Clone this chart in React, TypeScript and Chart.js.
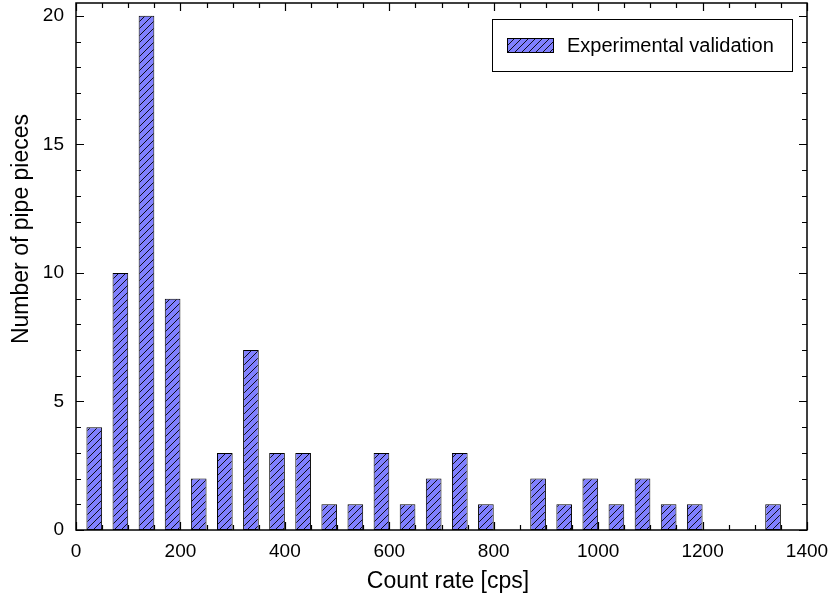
import React, { useEffect, useRef } from "react";
import { Chart, registerables } from "chart.js";

Chart.register(...registerables);

// Bin centres (cps) and counts
const binCenters = [35, 85, 135, 185, 235, 285, 335, 385, 435, 485, 535, 585, 635, 685, 735, 785, 835, 885, 935, 985, 1035, 1085, 1135, 1185, 1235, 1285, 1335];
const counts = [4, 10, 20, 9, 2, 3, 7, 3, 3, 1, 1, 3, 1, 2, 3, 1, 0, 2, 1, 2, 1, 2, 1, 1, 0, 0, 1];
const seriesLabel = "Experimental validation";
const xTitle = "Count rate [cps]";
const yTitle = "Number of pipe pieces";
const xMajorTicks = [0, 200, 400, 600, 800, 1000, 1200, 1400];
const yMajorTicks = [0, 5, 10, 15, 20];

const FONT = "'Liberation Sans', Arial, Helvetica, sans-serif";
const FILL = "#8080ff";

function makePattern(): CanvasPattern | string {
  const c = document.createElement("canvas");
  const s = 7;
  c.width = s;
  c.height = s;
  const g = c.getContext("2d");
  if (!g) return FILL;
  g.fillStyle = FILL;
  g.fillRect(0, 0, s, s);
  g.strokeStyle = "#000";
  g.lineWidth = 0.9;
  g.beginPath();
  g.moveTo(0, s);
  g.lineTo(s, 0);
  g.moveTo(-1, 1);
  g.lineTo(1, -1);
  g.moveTo(s - 1, s + 1);
  g.lineTo(s + 1, s - 1);
  g.stroke();
  const p = g.createPattern(c, "repeat");
  return p || FILL;
}

export default function App() {
  const ref = useRef<HTMLCanvasElement | null>(null);
  useEffect(() => {
    document.body.style.margin = "0";
    const canvas = ref.current;
    if (!canvas) return;
    const pattern = makePattern();

    const ticksPlugin = {
      id: "frameTicks",
      beforeDatasetsDraw(chart: any) {
        const { ctx, chartArea: a, scales } = chart;
        const xs = scales.x;
        const ys = scales.y;
        ctx.save();
        ctx.strokeStyle = "#000";
        ctx.lineWidth = 1.2;
        ctx.beginPath();
        for (let v = 0; v <= 1400; v += 50) {
          const px = Math.round(xs.getPixelForValue(v)) + 0.5;
          const len = v % 200 === 0 ? 8 : 5;
          ctx.moveTo(px, a.bottom);
          ctx.lineTo(px, a.bottom - len);
          ctx.moveTo(px, a.top);
          ctx.lineTo(px, a.top + len);
        }
        for (let v = 0; v <= 20; v += 1) {
          const py = Math.round(ys.getPixelForValue(v)) + 0.5;
          const len = v % 5 === 0 ? 8 : 5;
          ctx.moveTo(a.left, py);
          ctx.lineTo(a.left + len, py);
          ctx.moveTo(a.right, py);
          ctx.lineTo(a.right - len, py);
        }
        ctx.stroke();
        ctx.restore();
      },
      afterDraw(chart: any) {
        const { ctx, chartArea: a } = chart;
        ctx.save();
        // frame
        ctx.strokeStyle = "#000";
        ctx.lineWidth = 1.5;
        ctx.strokeRect(a.left, a.top, a.right - a.left, a.bottom - a.top);
        // titles
        ctx.fillStyle = "#000";
        ctx.font = `23px ${FONT}`;
        ctx.textAlign = "center";
        ctx.textBaseline = "middle";
        ctx.fillText(xTitle, 448, 582);
        ctx.save();
        ctx.translate(22, 229);
        ctx.rotate(-Math.PI / 2);
        ctx.fillText(yTitle, 0, 0);
        ctx.restore();
        // legend
        ctx.fillStyle = "#fff";
        ctx.fillRect(492, 19, 300, 52);
        ctx.lineWidth = 1;
        ctx.strokeStyle = "#000";
        ctx.strokeRect(492.5, 19.5, 300, 52);
        ctx.fillStyle = pattern as any;
        ctx.fillRect(507, 38, 46, 14);
        ctx.strokeRect(507.5, 38.5, 46, 14);
        ctx.fillStyle = "#000";
        ctx.font = `20px ${FONT}`;
        ctx.textAlign = "left";
        ctx.fillText(seriesLabel, 567, 46);
        ctx.restore();
      },
    };

    const chart = new Chart(canvas, {
      type: "bar",
      data: {
        datasets: [
          {
            label: seriesLabel,
            data: binCenters.map((x, i) => ({ x, y: counts[i] })),
            backgroundColor: pattern as any,
            borderColor: "#000",
            borderWidth: (c: any) => (c.raw && c.raw.y === 0 ? 0 : 1),
            borderSkipped: false,
            barPercentage: 0.6,
            categoryPercentage: 1,
          },
        ],
      },
      options: {
        responsive: false,
        animation: false,
        layout: { padding: { left: 0, top: 3, right: 25, bottom: 0 } },
        plugins: { legend: { display: false }, tooltip: { enabled: false } },
        scales: {
          x: {
            type: "linear",
            offset: false,
            min: 0,
            max: 1400,
            afterFit: (s: any) => {
              s.height = 73;
              s.paddingLeft = 0;
              s.paddingRight = 0;
            },
            afterBuildTicks: (s: any) => {
              s.ticks = xMajorTicks.map((v) => ({ value: v }));
            },
            grid: { display: false, drawTicks: false, offset: false },
            border: { display: false },
            ticks: {
              color: "#000",
              font: { family: FONT, size: 19 },
              padding: 10,
              maxRotation: 0,
              callback: (v: any) => String(v),
            },
          },
          y: {
            type: "linear",
            min: 0,
            max: 20.5,
            afterFit: (s: any) => {
              s.width = 76;
              s.paddingTop = 0;
              s.paddingBottom = 0;
            },
            afterBuildTicks: (s: any) => {
              s.ticks = yMajorTicks.map((v) => ({ value: v }));
            },
            grid: { display: false, drawTicks: false },
            border: { display: false },
            ticks: {
              color: "#000",
              font: { family: FONT, size: 19 },
              padding: 12,
              callback: (v: any) => String(v),
            },
          },
        },
      },
      plugins: [ticksPlugin],
    } as any);
    return () => chart.destroy();
  }, []);
  return <canvas ref={ref} width={832} height={603} style={{ display: "block", width: 832, height: 603 }} />;
}
